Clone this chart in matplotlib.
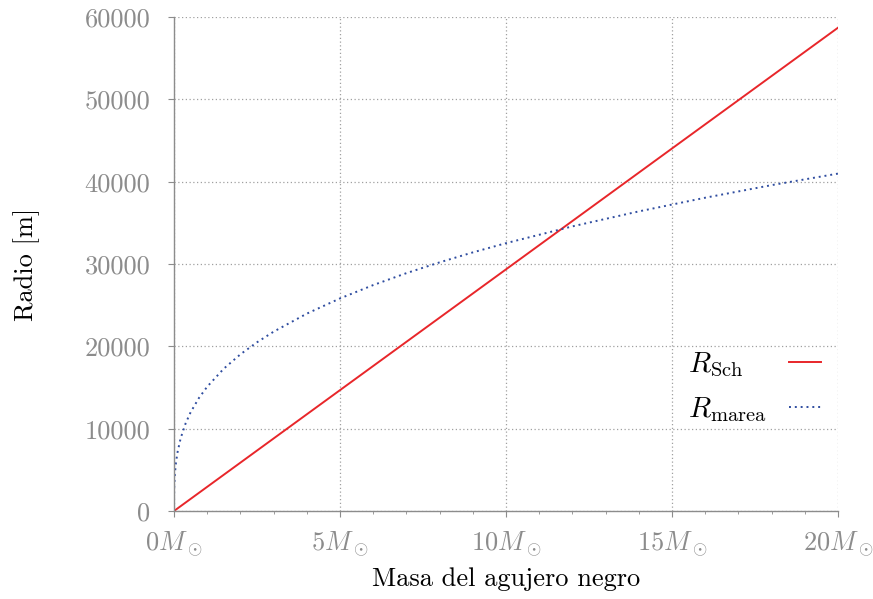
import matplotlib
matplotlib.use("Agg")
import matplotlib.pyplot as plt
from matplotlib.ticker import MultipleLocator, FixedLocator

# Values (mass in solar masses, radius in metres)
masa_sch = [0, 5, 10, 15, 20]
radio_sch = [0, 14680, 29350, 44030, 58700]

masa_marea = [0, 0.005, 0.02, 0.05, 0.1, 0.2, 0.35, 0.5, 0.75, 1, 1.5, 2, 2.5, 3,
              4, 5, 6, 7, 8, 9, 10, 12, 14, 16, 18, 20]
radio_marea = [0, 2580, 4100, 5560, 7010, 8830, 10640, 11990, 13720, 15100, 17290,
               19030, 20490, 21780, 23970, 25820, 27440, 28890, 30200, 31410,
               32530, 34570, 36390, 38050, 39580, 40980]

xticks = [0, 5, 10, 15, 20]
xtick_labels = [r'$0M_\odot$', r'$5M_\odot$', r'$10M_\odot$', r'$15M_\odot$', r'$20M_\odot$']
yticks = [0, 10000, 20000, 30000, 40000, 50000, 60000]

plt.rcParams['font.family'] = 'serif'
plt.rcParams['font.serif'] = ['cmr10', 'DejaVu Serif']
plt.rcParams['mathtext.fontset'] = 'cm'
plt.rcParams['axes.formatter.use_mathtext'] = True

gris = '#8c8c8c'

fig = plt.figure(figsize=(8.73, 5.99), dpi=100)
ax = fig.add_axes([0.1993, 0.1469, 0.7606, 0.8247])

ax.plot(masa_sch, radio_sch, color='#e8262a', lw=1.4, label=r'$R_{\mathrm{Sch}}$')
ax.plot(masa_marea, radio_marea, color='#2f4da0', lw=1.4, linestyle=(0, (1, 2)),
        label=r'$R_{\mathrm{marea}}$')

ax.set_xlim(0, 20)
ax.set_ylim(0, 60000)
ax.xaxis.set_major_locator(FixedLocator(xticks))
ax.set_xticklabels(xtick_labels)
ax.xaxis.set_minor_locator(MultipleLocator(1))
ax.yaxis.set_major_locator(FixedLocator(yticks))
ax.set_yticklabels([str(v) for v in yticks])

ax.grid(True, which='major', color='#a0a0a0', linestyle=(0, (1, 2)), lw=0.9)
for s in ['top', 'right']:
    ax.spines[s].set_visible(False)
for s in ['left', 'bottom']:
    ax.spines[s].set_color(gris)
    ax.spines[s].set_linewidth(1.0)

ax.tick_params(axis='both', which='both', colors=gris, labelsize=19, direction='out')
ax.tick_params(axis='both', which='major', length=4)
ax.tick_params(axis='y', which='major', pad=13)
ax.tick_params(axis='x', which='major', pad=9)
ax.tick_params(axis='x', which='minor', length=2.5)

ax.set_xlabel('Masa del agujero negro', fontsize=19, labelpad=6)
ax.set_ylabel('Radio [m]', fontsize=19, labelpad=32)

leg = ax.legend(loc='center right', bbox_to_anchor=(0.996, 0.25), frameon=False,
                markerfirst=False, fontsize=21, handlelength=1.1, handletextpad=0.75,
                labelspacing=0.55, borderpad=0)

# gnuplot-style key: texts left aligned, samples lined up on the right
col = leg._legend_handle_box.get_children()[0]
col.align = 'left'
renderer = fig.canvas.get_renderer()
widths = [t.get_window_extent(renderer).width for t in leg.get_texts()]
for row, w in zip(col.get_children(), widths):
    row.sep += (max(widths) - w) * 72 / fig.dpi

fig.savefig('out.png', dpi=100)
